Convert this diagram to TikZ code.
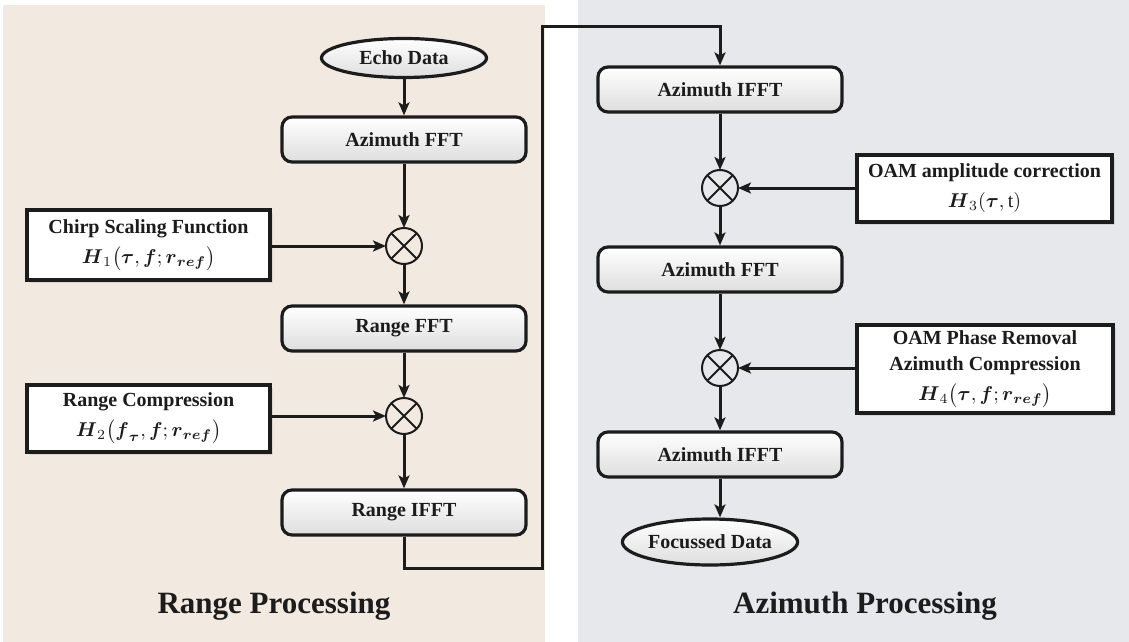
\documentclass[tikz,border=0pt]{standalone}
\usepackage{fontspec}
\setmainfont{Liberation Serif}
\usepackage{amsmath}
\usetikzlibrary{arrows.meta}
\usetikzlibrary{shapes.geometric}
\usetikzlibrary{shadows}
\usepackage{xcolor}
\definecolor{rangebg}{RGB}{242,233,225}
\definecolor{azimbg}{RGB}{230,232,236}
\definecolor{inkc}{RGB}{28,28,28}
\tikzset{
 stage/.style={draw=inkc, line width=1.6pt, rounded corners=5pt, top color=white, bottom color=black!13, minimum width=122pt, minimum height=22.5pt, font=\bfseries, text=inkc, inner sep=0pt},
 term/.style={ellipse, draw=inkc, line width=1.6pt, top color=white, bottom color=black!13, font=\bfseries, text=inkc, inner sep=0pt},
 filt/.style={draw=inkc, line width=1.7pt, fill=white, align=center, font=\bfseries, text=inkc, inner sep=0pt, drop shadow={opacity=.2, shadow xshift=1.5pt, shadow yshift=-1.5pt}},
 mixer/.style={circle, draw=inkc, line width=1pt, minimum size=18pt, inner sep=0pt, outer sep=0pt},
 flow/.style={draw=inkc, line width=1.5pt, -{Stealth[length=6.5pt,width=5.5pt,inset=1.5pt]}},
}
\newcommand{\bs}[1]{\boldsymbol{#1}}
\begin{document}
\begin{tikzpicture}[x=0.5pt,y=-0.5pt]
\useasboundingbox (0,0) rectangle (1129,642);
\fill[rangebg] (3,5) rectangle (545,642);
\fill[azimbg] (578,0) rectangle (1129,642);

\node[term, minimum width=82.5pt, minimum height=19.5pt] (echo) at (404,58) {Echo Data};
\node[stage] (afft) at (404,139.5) {Azimuth FFT};
\node[mixer] (m1) at (404,246) {};
\node[stage] (rfft) at (404,328.5) {Range FFT};
\node[mixer] (m2) at (404,416) {};
\node[stage] (rifft) at (404,512.5) {Range IFFT};

\node[stage] (aifft) at (720,89.5) {Azimuth IFFT};
\node[mixer] (m3) at (720,188) {};
\node[stage] (afftb) at (720,269.5) {Azimuth FFT};
\node[mixer] (m4) at (720,368) {};
\node[stage] (aifftb) at (720,454.5) {Azimuth IFFT};
\node[term, minimum width=75pt, minimum height=23pt] (focus) at (710,542) {Focussed Data};

\node[filt, minimum width=121.5pt, minimum height=35pt] (chirp) at (148.5,245) {Chirp Scaling Function\\[3pt] $\bs{H}_1\bigl(\bs{\tau},\bs{f};\bs{r}_{\bs{ref}}\bigr)$};
\node[filt, minimum width=121.5pt, minimum height=33.5pt] (rcomp) at (148.5,418.5) {Range Compression\\[3pt] $\bs{H}_2\bigl(\bs{f}_{\bs{\tau}},\bs{f};\bs{r}_{\bs{ref}}\bigr)$};
\node[filt, minimum width=127.5pt, minimum height=33.5pt] (ampc) at (984.5,188.5) {OAM amplitude correction\\[3pt] $\bs{H}_3(\bs{\tau},\mathrm{t})$};
\node[filt, minimum width=128pt, minimum height=44pt] (phrem) at (985,369) {OAM Phase Removal\\[1pt] Azimuth Compression\\[3pt] $\bs{H}_4\bigl(\bs{\tau},\bs{f};\bs{r}_{\bs{ref}}\bigr)$};

\foreach \a/\b in {echo/afft, afft/m1, m1/rfft, rfft/m2, m2/rifft, aifft/m3, m3/afftb, afftb/m4, m4/aifftb}
 \draw[flow] (\a) -- (\b);
\draw[flow] (aifftb) -- (aifftb |- focus.north);
\draw[flow] (chirp.east |- m1) -- (m1.west);
\draw[flow] (rcomp.east |- m2) -- (m2.west);
\draw[flow] (ampc.west |- m3) -- (m3.east);
\draw[flow] (phrem.west |- m4) -- (m4.east);
\foreach \m in {m1,m2,m3,m4}
 \draw[inkc, line width=1pt] (\m.north east) -- (\m.south west) (\m.north west) -- (\m.south east);

\coordinate (lowturn) at (542,568);
\coordinate (topturn) at (542,27);
\draw[flow] (rifft.south) |- (lowturn) -- (topturn) -| (aifft.north);

\node[font=\fontsize{15.5}{18}\selectfont\bfseries, text=inkc] (rlabel) at (274,606) {Range Processing};
\node[font=\fontsize{15.5}{18}\selectfont\bfseries, text=inkc] (alabel) at (865,606) {Azimuth Processing};
\end{tikzpicture}
\end{document}
